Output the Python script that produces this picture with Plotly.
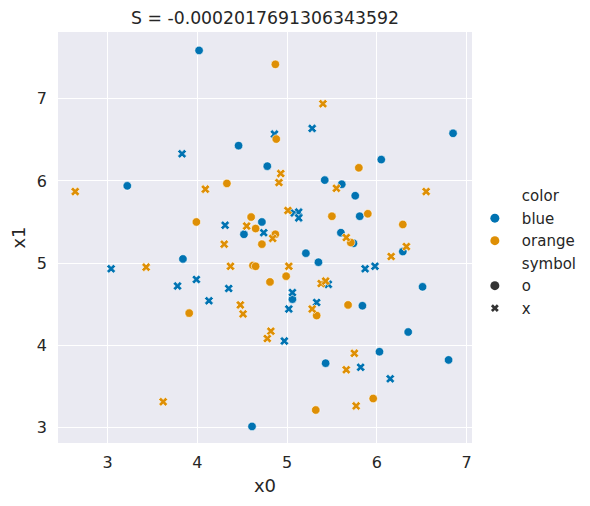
import plotly.graph_objects as go

# values
blue_o_x0 = [4.02, 4.46, 4.78, 3.22, 4.72, 4.52, 3.84, 6.85, 6.05, 5.42, 5.61, 5.76, 5.81,
             5.60, 5.74, 6.29, 5.21, 5.35, 5.06, 5.84, 6.51, 6.35, 6.03, 5.43, 6.80, 4.61]
blue_o_x1 = [7.59, 6.43, 6.18, 5.94, 5.50, 5.35, 5.05, 6.58, 6.26, 6.01, 5.96, 5.82, 5.57,
             5.37, 5.24, 5.14, 5.12, 5.01, 4.56, 4.48, 4.71, 4.16, 3.92, 3.78, 3.82, 3.01]

blue_x_x0 = [3.83, 4.31, 4.74, 5.08, 5.13, 5.13, 5.28, 4.86, 3.04, 3.99, 3.78, 4.35, 4.13,
             5.06, 5.02, 4.97, 5.87, 5.98, 5.46, 5.33, 5.82, 6.15]
blue_x_x1 = [6.33, 5.46, 5.37, 5.61, 5.62, 5.55, 6.64, 6.57, 4.93, 4.80, 4.72, 4.69, 4.54,
             4.64, 4.44, 4.05, 4.93, 4.96, 4.74, 4.52, 3.73, 3.59]

orange_o_x0 = [4.87, 4.88, 4.33, 3.99, 4.60, 4.65, 4.87, 4.72, 4.62, 4.65, 4.99, 4.81, 3.91,
               5.80, 5.50, 5.90, 6.29, 5.71, 5.33, 5.68, 5.96, 5.32]
orange_o_x1 = [7.42, 6.51, 5.97, 5.50, 5.56, 5.42, 5.35, 5.23, 4.97, 4.96, 4.84, 4.77, 4.39,
               6.16, 5.57, 5.60, 5.47, 5.25, 4.36, 4.49, 3.35, 3.21]

orange_x_x0 = [2.64, 4.09, 4.55, 4.93, 4.91, 5.01, 4.84, 4.30, 4.37, 5.02, 3.43, 4.48, 4.51,
               4.82, 4.78, 3.62, 5.40, 5.55, 6.55, 5.66, 6.33, 6.16, 5.38, 5.43, 5.28, 5.75,
               5.66, 5.77]
orange_x_x1 = [5.87, 5.90, 5.45, 6.09, 5.98, 5.64, 5.30, 5.23, 4.96, 4.96, 4.95, 4.49, 4.38,
               4.17, 4.08, 3.31, 6.94, 5.91, 5.87, 5.31, 5.20, 5.08, 4.75, 4.78, 4.44, 3.90,
               3.70, 3.26]

title = "S = -0.0002017691306343592"
blue = "#0173B2"
orange = "#DE8F05"
text_col = "#262626"

fig = go.Figure()

groups = [
    (blue_o_x0, blue_o_x1, blue, "circle"),
    (blue_x_x0, blue_x_x1, blue, "x"),
    (orange_o_x0, orange_o_x1, orange, "circle"),
    (orange_x_x0, orange_x_x1, orange, "x"),
]
for xs, ys, col, sym in groups:
    fig.add_trace(go.Scatter(
        x=xs, y=ys, mode="markers", showlegend=False,
        marker=dict(color=col, symbol=sym, size=8.5 if sym == "circle" else 8,
                    line=dict(color="white", width=0.6)),
    ))

# legend entries, seaborn style: titles are entries with no handle
legend_rows = [
    ("color", "rgba(0,0,0,0)", "circle"),
    ("blue", blue, "circle"),
    ("orange", orange, "circle"),
    ("symbol", "rgba(0,0,0,0)", "circle"),
    ("o", "#333333", "circle"),
    ("x", "#333333", "x"),
]
for name, col, sym in legend_rows:
    fig.add_trace(go.Scatter(
        x=[None], y=[None], mode="markers", name=name,
        marker=dict(color=col, symbol=sym, size=9 if sym == "circle" else 7,
                    line=dict(color="rgba(0,0,0,0)", width=0)),
    ))

# the page adds an 8px body margin, so the figure is 8px smaller
fig.update_layout(
    width=582, height=498,
    margin=dict(l=50, r=118, t=24, b=63, autoexpand=False),
    paper_bgcolor="white",
    plot_bgcolor="#EAEAF2",
    font=dict(family="DejaVu Sans", size=16, color=text_col),
    title=dict(text=title, x=(50 + 464) / 2 / 582, xanchor="center",
               y=1 - 10 / 498, yanchor="middle", font=dict(size=17.3)),
    legend=dict(x=0.99, xanchor="left", y=0.465, yanchor="middle",
                bgcolor="rgba(0,0,0,0)", tracegroupgap=0, itemwidth=44,
                font=dict(size=15)),
)
fig.update_xaxes(range=[2.448, 7.061], tickvals=[3, 4, 5, 6, 7], showgrid=True,
                 gridcolor="white", gridwidth=1.2, zeroline=False, showline=False,
                 ticks="", ticklabelstandoff=8, automargin=False,
                 title=dict(text="x0", font=dict(size=18), standoff=8),
                 tickfont=dict(size=16))
fig.update_yaxes(range=[2.808, 7.814], tickvals=[3, 4, 5, 6, 7], showgrid=True,
                 gridcolor="white", gridwidth=1.2, zeroline=False, showline=False,
                 ticks="", ticklabelstandoff=10, automargin=False,
                 title=dict(text="x1", font=dict(size=18), standoff=6),
                 tickfont=dict(size=16))

fig.write_html("out.html")
